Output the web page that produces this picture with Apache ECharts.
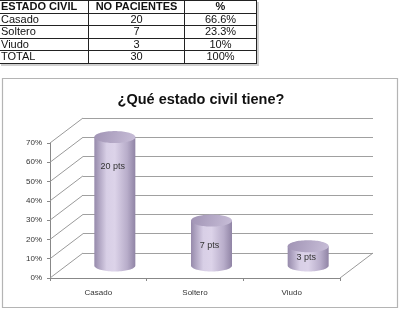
<!DOCTYPE html>
<html>
<head>
<meta charset="utf-8">
<script src="https://cdn.jsdelivr.net/npm/echarts@6/dist/echarts.min.js"></script>
<style>
  html, body { margin: 0; padding: 0; background: #fff; }
  #charts { position: absolute; left: 0; top: 0; width: 402px; height: 310px; }
  #tabla {
    position: absolute; left: -1px; top: 0;
    border-collapse: collapse;
    font-family: "Liberation Sans", Arial, sans-serif;
    font-size: 11px; color: #111;
    box-shadow: 2px 2px 0 #cfcfcf;
  }
  #tabla td { border: 1px solid #222; padding: 0 1px; height: 11.5px; line-height: 11.5px; white-space: nowrap; }
  #tabla th { border: 1px solid #222; padding: 0 1px; height: 11.5px; line-height: 11.5px; font-weight: bold; white-space: nowrap; }
  #tabla .c1 { width: 86px; text-align: left; }
  #tabla .c2 { width: 93px; text-align: center; }
  #tabla .c3 { width: 69px; text-align: center; }
</style>
</head>
<body>
<div id="charts"></div>
<table id="tabla"><thead></thead><tbody></tbody></table>
<script>
// datos de la tabla y del grafico
var encabezados = ['ESTADO CIVIL', 'NO PACIENTES', '%'];
var estados = ['Casado', 'Soltero', 'Viudo'];
var pacientes = [20, 7, 3];
var porcentajes = [66.6, 23.3, 10];
var totalFila = ['TOTAL', 30, 100];
var yTicks = [0, 10, 20, 30, 40, 50, 60, 70];

var DX = 33, DY = -25; // profundidad de la pared del fondo

function renderTabla() {
    var thead = document.querySelector('#tabla thead');
    var tbody = document.querySelector('#tabla tbody');
    var htr = document.createElement('tr');
    htr.innerHTML = '<th class="c1">' + encabezados[0] + '</th><th class="c2">' + encabezados[1] + '</th><th class="c3">' + encabezados[2] + '</th>';
    thead.appendChild(htr);
    for (var i = 0; i < estados.length; i++) {
        var ntr = document.createElement('tr');
        ntr.innerHTML = '<td class="c1">' + estados[i] + '</td><td class="c2">' + pacientes[i] + '</td><td class="c3">' + porcentajes[i] + '%</td>';
        tbody.appendChild(ntr);
    }
    var ttr = document.createElement('tr');
    ttr.innerHTML = '<td class="c1">' + totalFila[0] + '</td><td class="c2">' + totalFila[1] + '</td><td class="c3">' + totalFila[2] + '%</td>';
    tbody.appendChild(ttr);
}

function renderDiagonal(params, api) {
    var v = api.value(1);
    var p = api.coord([0, v]);
    var x0 = params.coordSys.x;
    var children = [{
        type: 'line',
        shape: { x1: x0, y1: p[1], x2: x0 + DX, y2: p[1] + DY },
        style: { stroke: '#9a9a9a', lineWidth: 1 }
    }];
    if (v === 0) {
        var x1 = params.coordSys.x + params.coordSys.width;
        children.push({
            type: 'line',
            shape: { x1: x1, y1: p[1], x2: x1 + DX, y2: p[1] + DY },
            style: { stroke: '#9a9a9a', lineWidth: 1 }
        });
    }
    return { type: 'group', children: children };
}

function renderCilindro(params, api) {
    var i = api.value(0);
    var v = api.value(1);
    var n = api.value(2);
    var base = api.coord([i, 0]);
    var top = api.coord([i, v]);
    var cx = base[0] + DX * 0.5;
    var by = base[1] + DY * 0.5;
    var ty = top[1] + DY * 0.5;
    var rx = 20.5, ry = 6, N = 40;
    var body = [[cx - rx, ty]];
    for (var k = 0; k <= N; k++) {
        var a = Math.PI * k / N;
        body.push([cx - rx * Math.cos(a), by + ry * Math.sin(a)]);
    }
    body.push([cx + rx, ty]);
    var cap = [];
    for (var j = 0; j < N * 2; j++) {
        var b = Math.PI * j / N;
        cap.push([cx + rx * Math.cos(b), ty + ry * Math.sin(b)]);
    }
    var labelY = Math.min(ty + 29, (ty + by) / 2 + 2);
    return {
        type: 'group',
        children: [{
            type: 'polygon',
            shape: { points: body },
            style: {
                fill: new echarts.graphic.LinearGradient(0, 0, 1, 0, [
                    { offset: 0, color: '#968aab' },
                    { offset: 0.3, color: '#d8cfe6' },
                    { offset: 0.5, color: '#dcd3e9' },
                    { offset: 0.8, color: '#b8adca' },
                    { offset: 1, color: '#9084a5' }
                ])
            }
        }, {
            type: 'polygon',
            shape: { points: cap },
            style: {
                fill: new echarts.graphic.LinearGradient(0, 0, 1, 1, [
                    { offset: 0, color: '#a093b4' },
                    { offset: 1, color: '#c8bed8' }
                ])
            }
        }, {
            type: 'text',
            style: {
                text: n + ' pts',
                x: cx - 2,
                y: labelY,
                align: 'center',
                verticalAlign: 'middle',
                fill: '#333',
                font: '9px "Liberation Sans", Arial, sans-serif'
            }
        }]
    };
}

function renderChart() {
    var myChart = echarts.init(document.getElementById('charts'));
    var option = {
        animation: false,
        title: {
            text: '¿Qué estado civil tiene?',
            left: 'center',
            top: 87,
            textStyle: {
                fontFamily: '"Liberation Sans", Arial, sans-serif',
                fontSize: 14.5,
                fontWeight: 'bold',
                color: '#111'
            }
        },
        graphic: [{
            type: 'rect',
            shape: { x: 2.5, y: 78.5, width: 395, height: 229 },
            style: { fill: 'none', stroke: '#b4b4b4', lineWidth: 1.2 },
            z: -10
        }],
        grid: [
            { left: 50, right: 62, top: 143, bottom: 32 },
            { left: 83, right: 29, top: 118, bottom: 57 }
        ],
        xAxis: [{
            type: 'category',
            gridIndex: 0,
            data: estados,
            axisLine: { lineStyle: { color: '#888', width: 1 } },
            axisTick: { show: true, length: 3, lineStyle: { color: '#888' } },
            axisLabel: {
                margin: 11,
                color: '#333',
                fontSize: 8,
                fontFamily: '"Liberation Sans", Arial, sans-serif'
            },
            splitLine: { show: false }
        }, {
            type: 'category',
            gridIndex: 1,
            data: estados,
            show: false
        }],
        yAxis: [{
            type: 'value',
            gridIndex: 0,
            min: 0,
            max: 70,
            interval: 10,
            axisLine: { show: true, lineStyle: { color: '#888', width: 1 } },
            axisTick: { show: true, length: 3, lineStyle: { color: '#888' } },
            axisLabel: {
                formatter: '{value}%',
                margin: 8,
                color: '#333',
                fontSize: 8,
                fontFamily: '"Liberation Sans", Arial, sans-serif'
            },
            splitLine: { show: false }
        }, {
            type: 'value',
            gridIndex: 1,
            min: 0,
            max: 70,
            interval: 10,
            axisLine: { show: false },
            axisTick: { show: false },
            axisLabel: { show: false },
            splitLine: { show: true, lineStyle: { color: '#a0a0a0', width: 1 } }
        }],
        series: [{
            type: 'custom',
            xAxisIndex: 0,
            yAxisIndex: 0,
            renderItem: renderDiagonal,
            data: yTicks.map(function (t) { return [0, t]; }),
            silent: true,
            z: 1
        }, {
            type: 'custom',
            xAxisIndex: 0,
            yAxisIndex: 0,
            renderItem: renderCilindro,
            data: estados.map(function (e, i) { return [i, porcentajes[i], pacientes[i]]; }),
            z: 5
        }]
    };
    myChart.setOption(option);
}

renderTabla();
renderChart();
</script>
</body>
</html>
